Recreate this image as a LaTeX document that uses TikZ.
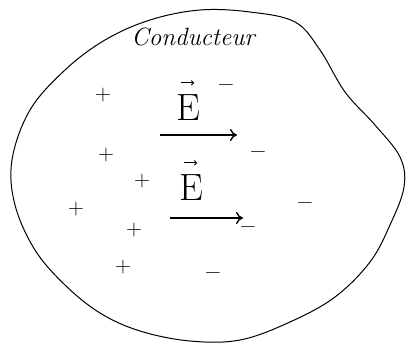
\documentclass[tikz,border=0pt]{standalone}
\usepackage{fontspec}
\usetikzlibrary{arrows.meta}
\begin{document}
\begin{tikzpicture}[x=1pt,y=-1pt,
  outline/.style={line width=1pt,line join=round},
  field/.style={line width=1.4pt,-{To[length=7pt,width=12pt,line width=1.4pt]}},
  accent/.style={line width=0.9pt,-{To[length=3pt,width=5pt,line width=0.9pt]}},
  charge/.style={font=\fontsize{22}{22}\selectfont,inner sep=0pt},
  vecE/.style={font=\fontsize{38}{38}\selectfont,inner sep=0pt},
  titlelabel/.style={font=\fontsize{25}{25}\selectfont\itshape,inner sep=0pt}]
\useasboundingbox (0,0) rectangle (408,345);
\draw[outline] plot[smooth cycle,tension=0.6] coordinates{
 (200,10) (250,12) (295,22) (320,50) (345,92) (375,125) (400,157) (404,187)
 (390,225) (370,262) (335,297) (290,322) (240,340) (190,341) (140,331)
 (100,313) (65,285) (35,250) (15,205) (12,160) (30,110) (65,70) (105,40) (150,20)};
\node[titlelabel] (title) at (193,37) {Conducteur};
% positive charges
\node[charge] (p1) at (103,95) {+};
\node[charge] (p2) at (106,155) {+};
\node[charge] (p3) at (142,181) {+};
\node[charge] (p4) at (76,209) {+};
\node[charge] (p5) at (134,230) {+};
\node[charge] (p6) at (123,267) {+};
% negative charges
\node[charge] (m1) at (226,88) {−};
\node[charge] (m2) at (258,155) {−};
\node[charge] (m3) at (305,206) {−};
\node[charge] (m4) at (248,230) {−};
\node[charge] (m5) at (213,276) {−};
% field vectors
\node[vecE] (e1) at (188,108) {E};
\node[vecE] (e2) at (191,188) {E};
\draw[accent] ([xshift=-7pt,yshift=12pt]e1.north) -- ([xshift=6pt,yshift=12pt]e1.north);
\draw[accent] ([xshift=-7pt,yshift=12pt]e2.north) -- ([xshift=6pt,yshift=12pt]e2.north);
\coordinate (a1s) at (160,135);
\coordinate (a1e) at (237,135);
\coordinate (a2s) at (170,218);
\coordinate (a2e) at (243,218);
\draw[field] (a1s) -- (a1e);
\draw[field] (a2s) -- (a2e);
\end{tikzpicture}
\end{document}
